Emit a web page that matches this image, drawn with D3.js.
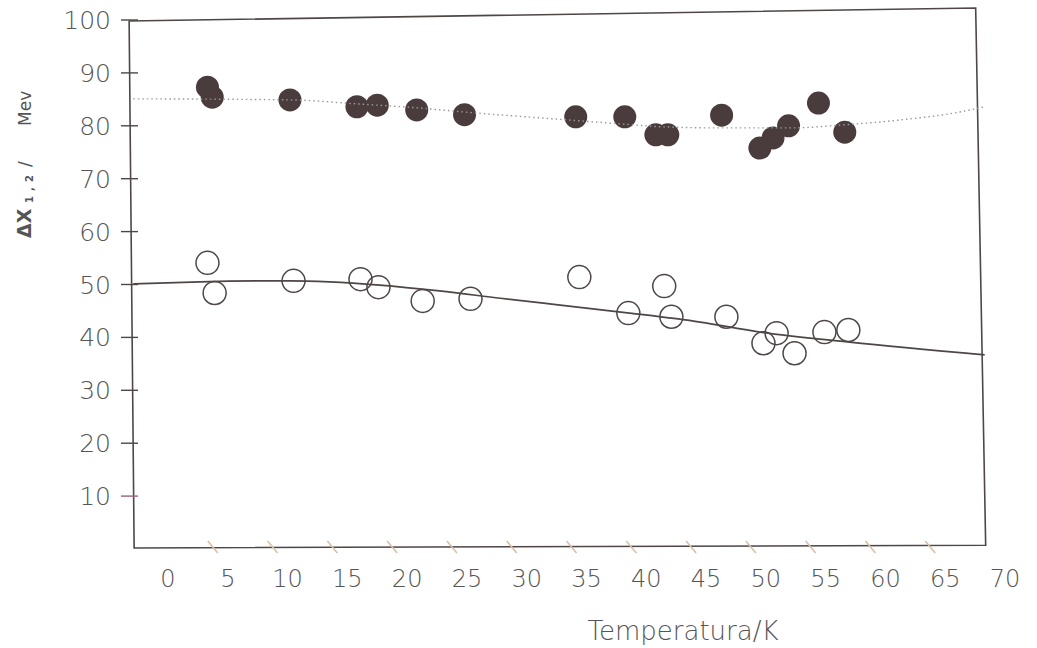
<!DOCTYPE html>
<html>
<head>
<meta charset="utf-8">
<script src="https://cdn.jsdelivr.net/npm/d3@7"></script>
<style>
  body { margin: 0; background: #fff; }
  text { font-family: "DejaVu Sans", sans-serif; fill: #555; }
</style>
</head>
<body>
<svg id="chart" width="1037" height="648"></svg>
<script>
// Filled points (upper series)
const filledT = [3.3, 3.7, 10.2, 15.8, 17.5, 20.8, 24.8, 34.1, 38.2, 40.8, 41.8, 46.3, 49.5, 50.6, 51.9, 54.4, 56.6];
const filledV = [87.3, 85.4, 84.9, 83.6, 83.9, 83.0, 82.1, 81.7, 81.7, 78.3, 78.3, 82.0, 75.8, 77.7, 80.0, 84.3, 78.8];

// Open circles (lower series)
const openT = [3.3, 3.9, 10.5, 16.1, 17.6, 21.3, 25.3, 34.4, 38.5, 41.5, 42.1, 46.7, 49.8, 50.9, 52.4, 54.9, 56.9];
const openV = [54.1, 48.4, 50.7, 51.0, 49.5, 46.9, 47.3, 51.4, 44.6, 49.7, 43.9, 43.9, 38.9, 40.8, 37.0, 41.0, 41.4];

// Fitted curves
const solidT = [-2.9, 2.7, 10.2, 13.5, 17.7, 22.7, 27.8, 32.8, 38.6, 44.5, 49.5, 57.0, 68.3];
const solidV = [50.1, 50.5, 50.7, 50.5, 49.9, 48.8, 47.4, 46.1, 44.6, 42.9, 41.0, 39.1, 36.7];
const dottedT = [-2.9, 10.2, 16.1, 20.8, 24.8, 34.1, 38.2, 41.4, 46.2, 52.0, 56.6, 61.2, 66.2, 68.3];
const dottedV = [85.1, 84.9, 84.1, 83.4, 82.6, 81.0, 80.3, 79.8, 79.6, 79.6, 80.2, 81.1, 82.6, 83.6];

const xTicks = d3.range(0, 71, 5);
const yTicks = d3.range(10, 101, 10);

const svg = d3.select("#chart");

const x = d3.scaleLinear([0, 70], [168, 1005]);
const y = d3.scaleLinear([0, 100], [549, 20]);

// Frame (slightly skewed like the scan)
const xl = x(-3), xr = x(68.3);
svg.append("path")
  .attr("d", `M${xl - 3},${y(100) + 1} L${xr - 9},${y(100) - 12} L${xr + 1},${y(0.7)} L${xl + 2},${y(0.2)} Z`)
  .attr("fill", "none")
  .attr("stroke", "#4f4646")
  .attr("stroke-width", 1.6);

// Y ticks and labels
const yAxis = svg.append("g");
yTicks.forEach(v => {
  yAxis.append("line")
    .attr("x1", 121).attr("x2", 138)
    .attr("y1", y(v)).attr("y2", y(v))
    .attr("stroke", v === 10 ? "#a06080" : "#4f4646")
    .attr("stroke-width", 1.4);
  yAxis.append("text")
    .attr("x", 111).attr("y", y(v))
    .attr("dy", "0.36em")
    .attr("text-anchor", "end")
    .attr("font-size", 25)
    .attr("font-weight", 200)
    .text(v);
});

// X ticks (faint slanted marks, offset left of the labels) and labels
const xAxis = svg.append("g");
xTicks.forEach(v => {
  if (v > 0 && v < 70) {
    xAxis.append("line")
      .attr("x1", x(v) - 20).attr("x2", x(v) - 10)
      .attr("y1", y(0) - 8).attr("y2", y(0) + 4)
      .attr("stroke", "#d8c0a8")
      .attr("stroke-width", 1.6);
  }
  xAxis.append("text")
    .attr("x", x(v)).attr("y", 578)
    .attr("dy", "0.36em")
    .attr("text-anchor", "middle")
    .attr("font-size", 24)
    .attr("font-weight", 200)
    .text(v);
});

// Axis titles
svg.append("text")
  .attr("x", 683).attr("y", 640)
  .attr("text-anchor", "middle")
  .attr("font-size", 26)
  .attr("font-weight", 200)
  .text("Temperatura/K");

const yl = svg.append("text")
  .attr("transform", "translate(31,238) rotate(-90)")
  .attr("fill", "#666");
yl.append("tspan").attr("x", 0).attr("font-size", 19).attr("font-weight", "bold").text("ΔX");
yl.append("tspan").attr("x", 35).attr("dy", 2).attr("font-size", 10).attr("font-weight", "bold").text("1");
yl.append("tspan").attr("x", 47).attr("font-size", 10).attr("font-weight", "bold").text(",");
yl.append("tspan").attr("x", 56).attr("font-size", 10).attr("font-weight", "bold").text("2");
yl.append("tspan").attr("x", 71).attr("dy", -2).attr("font-size", 17).text("/");
yl.append("tspan").attr("x", 112).attr("font-size", 17).text("Mev");

// Fitted curves
const line = d3.line().x(d => x(d[0])).y(d => y(d[1])).curve(d3.curveMonotoneX);

svg.append("path")
  .datum(d3.zip(solidT, solidV))
  .attr("d", line)
  .attr("fill", "none")
  .attr("stroke", "#4f4646")
  .attr("stroke-width", 1.7);

// Points
svg.append("g").selectAll("circle")
  .data(d3.zip(openT, openV))
  .join("circle")
  .attr("cx", d => x(d[0]))
  .attr("cy", d => y(d[1]))
  .attr("r", 11.5)
  .attr("fill", "none")
  .attr("stroke", "#4f4646")
  .attr("stroke-width", 1.5);

svg.append("g").selectAll("circle")
  .data(d3.zip(filledT, filledV))
  .join("circle")
  .attr("cx", d => x(d[0]))
  .attr("cy", d => y(d[1]))
  .attr("r", 11.5)
  .attr("fill", "#4a3c3c");

svg.append("path")
  .datum(d3.zip(dottedT, dottedV))
  .attr("d", line)
  .attr("fill", "none")
  .attr("stroke", "#9a9a9a")
  .attr("stroke-width", 1.4)
  .attr("stroke-dasharray", "1.5,3");
</script>
</body>
</html>
